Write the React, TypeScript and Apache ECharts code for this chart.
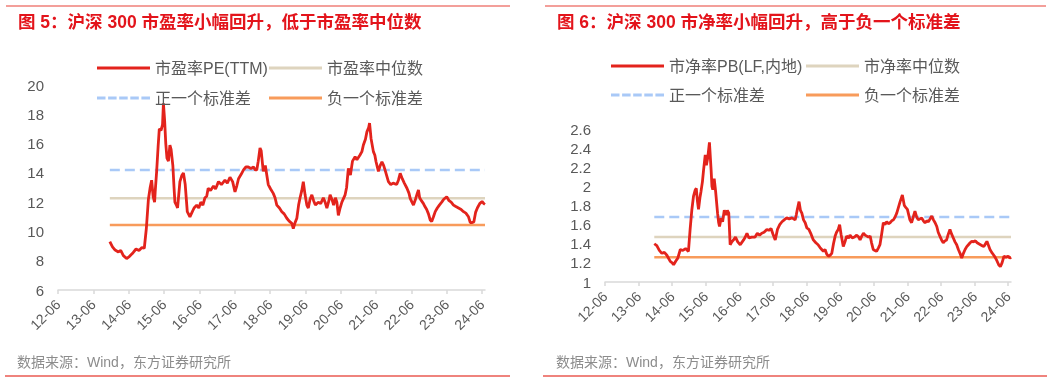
import React, { useEffect, useRef } from "react";
import * as echarts from "echarts";

// months since 2012-06 (x position of each reading) and values
const peMonth = [17.6,18.5,19.4,20.5,21.3,22.2,23.3,24.3,25.5,26.5,27.5,28.5,29.3,30.0,30.7,31.3,31.8,32.3,32.8,33.0,33.5,34.0,34.4,35.0,35.5,35.8,36.2,36.6,37.0,37.5,38.0,38.4,39.0,39.4,39.7,40.2,40.6,41.0,41.4,42.0,42.6,43.2,43.9,44.8,45.5,46.2,47.1,47.8,48.5,49.2,49.9,50.5,51.0,51.8,52.8,53.5,54.5,55.5,56.7,57.5,58.4,59.3,60.1,60.7,61.3,62.2,63.0,63.8,64.6,65.5,66.4,67.0,67.5,68.0,68.6,69.0,69.7,70.4,71.4,72.2,73.1,73.7,74.3,75.2,76.0,76.8,77.7,78.5,79.4,79.9,80.5,81.1,81.7,82.2,82.8,83.3,83.9,84.5,85.0,85.6,86.2,86.8,87.4,88.4,89.2,90.1,90.7,91.3,92.0,92.4,93.0,93.6,94.2,94.7,95.2,95.8,96.4,97.5,98.0,98.6,99.3,100.0,100.9,101.5,102.5,103.2,103.7,104.4,104.9,105.5,105.8,106.3,107.1,107.6,108.0,108.8,109.4,110.0,110.6,111.2,112.2,113.0,113.8,115.0,115.6,116.2,116.9,117.6,118.5,119.2,119.6,120.2,120.7,121.4,122.0,122.4,122.8,123.4,124.1,124.6,125.2,125.8,126.4,126.9,127.5,128.1,128.8,129.5,130.3,131.0,132.0,132.8,133.5,134.3,135.1,136.0,136.9,137.7,138.5,139.4,140.0,140.5,141.2,141.8,142.4,143.2,144.0,144.6,145.0];
const peValue = [9.30,8.95,8.73,8.60,8.70,8.35,8.15,8.30,8.55,8.80,8.70,8.90,8.85,10.2,12.2,13.0,13.5,12.4,12.0,12.7,14.1,15.8,17.0,16.9,17.3,18.75,17.6,16.0,15.0,14.8,15.9,15.6,14.5,13.0,12.0,11.8,11.6,12.5,13.4,13.8,14.0,13.2,11.35,11.0,11.3,11.6,11.8,11.6,12.0,11.8,12.3,12.4,12.95,12.8,13.1,12.9,13.4,13.2,13.5,13.3,13.7,13.4,12.7,13.1,13.6,13.9,14.2,14.4,14.4,14.3,14.4,14.2,14.2,14.8,15.7,15.5,14.1,14.5,13.2,12.9,12.6,12.3,11.8,11.6,11.35,11.2,10.9,10.7,10.55,10.2,10.6,10.9,11.8,12.3,12.8,13.4,12.5,11.8,11.6,12.2,12.5,12.1,11.8,12.0,11.9,12.3,12.0,11.6,12.1,12.5,12.2,11.8,12.3,12.0,11.1,11.6,12.0,12.5,13.0,14.3,13.85,14.8,15.1,14.9,15.2,15.45,15.9,16.3,16.8,17.1,17.4,16.35,15.45,15.2,14.76,14.1,14.5,14.76,14.5,14.1,13.4,13.2,13.3,13.2,13.5,13.97,13.6,13.3,12.95,12.6,12.26,12.0,11.8,12.2,12.6,12.83,12.3,12.1,11.9,11.7,11.5,11.2,10.78,10.67,11.0,11.35,11.6,11.8,12.0,12.2,12.37,12.1,12.0,11.8,11.7,11.6,11.5,11.35,11.25,11.0,10.6,10.6,10.65,11.3,11.6,11.9,12.05,11.9,11.85];

const pbMonth = [17.6,18.5,19.4,20.3,21.2,22.1,23.3,24.0,24.5,25.3,26.0,26.9,27.8,28.8,29.8,30.4,31.0,31.6,32.2,32.6,33.0,33.4,33.9,34.3,34.8,35.2,35.8,36.2,36.7,37.3,37.9,38.2,38.5,39.0,39.5,40.2,40.6,40.9,41.5,42.0,42.6,43.2,43.7,44.2,44.7,45.3,45.9,46.6,47.4,48.3,49.0,49.5,50.1,50.7,51.4,52.4,53.6,54.4,55.2,56.0,56.8,57.8,58.5,59.3,60.0,60.8,61.6,62.4,63.2,64.0,64.9,65.8,66.8,67.9,68.3,68.7,69.3,69.8,70.3,70.9,71.5,72.1,72.8,73.6,74.4,75.3,76.1,76.8,77.4,78.0,78.6,79.2,79.8,80.4,81.0,81.6,82.2,82.7,83.3,83.8,84.3,85.1,85.7,86.3,87.0,87.5,88.3,89.1,89.9,90.6,91.1,91.7,92.3,92.9,93.5,94.1,94.7,95.2,95.8,96.4,97.0,97.7,98.2,98.8,99.4,100.0,100.6,101.2,101.8,102.4,103.0,103.6,104.2,104.8,105.4,106.2,106.9,107.4,108.0,108.9,109.5,110.1,110.7,111.3,111.9,112.5,113.1,113.7,114.3,114.9,115.5,116.1,116.7,117.3,117.9,118.5,119.0,119.6,120.2,120.8,121.4,122.0,122.6,123.2,123.8,124.4,125.0,125.6,126.2,126.8,127.4,128.0,128.6,129.2,129.8,130.4,131.0,131.6,132.3,132.9,133.5,134.1,134.7,135.3,135.9,136.4,137.0,137.5,138.1,138.6,139.3,140.0,140.6,141.2,141.8,142.5,143.2,144.0,144.6,145.0];
const pbValue = [1.40,1.38,1.33,1.30,1.31,1.28,1.215,1.20,1.18,1.22,1.25,1.34,1.33,1.35,1.32,1.55,1.75,1.895,1.96,1.98,1.85,1.76,1.88,1.95,2.05,2.17,2.33,2.22,2.30,2.46,2.17,2.00,1.965,2.08,1.95,1.72,1.62,1.58,1.67,1.63,1.75,1.70,1.75,1.72,1.39,1.42,1.44,1.47,1.42,1.39,1.42,1.44,1.47,1.51,1.46,1.47,1.47,1.51,1.49,1.51,1.52,1.55,1.54,1.56,1.50,1.44,1.55,1.60,1.63,1.65,1.67,1.66,1.67,1.65,1.70,1.76,1.84,1.75,1.72,1.65,1.62,1.565,1.55,1.50,1.44,1.41,1.39,1.36,1.34,1.32,1.34,1.29,1.27,1.28,1.30,1.40,1.48,1.52,1.55,1.60,1.50,1.37,1.42,1.48,1.46,1.49,1.46,1.47,1.49,1.47,1.44,1.48,1.51,1.49,1.48,1.47,1.48,1.41,1.34,1.33,1.32,1.36,1.39,1.50,1.62,1.60,1.63,1.61,1.62,1.64,1.65,1.68,1.72,1.78,1.84,1.91,1.80,1.78,1.76,1.65,1.62,1.68,1.74,1.68,1.65,1.66,1.67,1.64,1.62,1.64,1.63,1.66,1.69,1.65,1.62,1.58,1.52,1.48,1.44,1.41,1.43,1.44,1.50,1.55,1.50,1.46,1.42,1.39,1.34,1.30,1.25,1.30,1.34,1.37,1.39,1.41,1.425,1.42,1.43,1.41,1.40,1.39,1.38,1.37,1.40,1.425,1.38,1.34,1.31,1.29,1.26,1.22,1.18,1.16,1.20,1.27,1.26,1.27,1.25,1.26,1.28];

const peBands = { median: 12.26, upper: 14.2, lower: 10.44 };
const pbBands = { median: 1.47, upper: 1.68, lower: 1.26 };
const bandStart = 17.6;
const bandEnd = 145;

const xTickMonths = [0, 12, 24, 36, 48, 60, 72, 84, 96, 108, 120, 132, 144];
const peYTicks = { min: 6, max: 20, step: 2 };
const pbYTicks = { min: 1, max: 2.6, step: 0.2 };

const titles = ["图 5：沪深 300 市盈率小幅回升，低于市盈率中位数", "图 6：沪深 300 市净率小幅回升，高于负一个标准差"];
const source = "数据来源：Wind，东方证券研究所";
const peName = "市盈率PE(TTM)";
const peMedName = "市盈率中位数";
const pbName = "市净率PB(LF,内地)";
const pbMedName = "市净率中位数";
const upName = "正一个标准差";
const lowName = "负一个标准差";

const FONT = "'Liberation Sans', Arial, 'Noto Sans CJK SC', sans-serif";
const RED = "#E3231C";
const MED = "#DED4BE";
const UP = "#A9C9F7";
const LOW = "#F89B5B";
const GRAY = "#595959";

const SOLID_ICON = "path://M0,0H53V3H0Z";
const DASH_ICON = "path://M0,0h8.5v3h-8.5z M11.1,0h8.5v3h-8.5z M22.2,0h8.5v3h-8.5z M33.3,0h8.5v3h-8.5z M44.4,0h8.6v3h-8.6z";

function pairs(xs: number[], ys: number[]) {
  return xs.map((x, i) => [x, ys[i]]);
}
function band(v: number) {
  return [[bandStart, v], [bandEnd, v]];
}

export default function App() {
  const ref = useRef<HTMLDivElement>(null);
  useEffect(() => {
    if (!ref.current) return;
    const chart = echarts.init(ref.current, undefined, { renderer: "svg" });
    const xAxisBase = (gridIndex: number) => ({
      type: "value",
      gridIndex,
      min: 0,
      max: 145,
      interval: 12,
      axisLine: { show: true, lineStyle: { color: "#D9D9D9", width: 1.5 } },
      axisTick: { show: true, length: 4, lineStyle: { color: "#D9D9D9", width: 1.5 }, customValues: xTickMonths },
      splitLine: { show: false },
      axisLabel: {
        customValues: xTickMonths,
        rotate: 45,
        margin: 12,
        color: GRAY,
        fontSize: 14,
        fontFamily: FONT,
        formatter: (v: number) => `${12 + Math.round(v / 12)}-06`,
      },
    });
    const yAxisBase = (gridIndex: number, t: { min: number; max: number; step: number }) => ({
      type: "value",
      gridIndex,
      min: t.min,
      max: t.max,
      interval: t.step,
      axisLine: { show: false },
      axisTick: { show: false },
      splitLine: { show: false },
      axisLabel: { color: GRAY, fontSize: 15, fontFamily: FONT, margin: 14, formatter: (v: number) => String(Math.round(v * 10) / 10) },
    });
    const line = (name: string, data: number[][], idx: number, color: string, type: string = "solid", z = 2, width = 2.5) => ({
      type: "line",
      name,
      data,
      xAxisIndex: idx,
      yAxisIndex: idx,
      showSymbol: false,
      symbol: "none",
      z,
      lineStyle: { color, width, type },
      itemStyle: { color },
    });
    const legend = (name: string, left: number, top: number, dashed = false) => ({
      data: [{ name, icon: dashed ? DASH_ICON : SOLID_ICON }],
      left,
      top,
      padding: 0,
      itemWidth: 53,
      itemHeight: 3,
      itemGap: 0,
      selectedMode: false,
      textStyle: { color: GRAY, fontSize: 16, fontFamily: FONT, lineHeight: 16 },
    });
    const text = (t: string, x: number, y: number, size: number, fill: string, weight = "normal") => ({
      type: "text",
      x,
      y,
      style: { text: t, fill, fontSize: size, fontWeight: weight, fontFamily: FONT, textVerticalAlign: "middle" },
    });
    const hline = (x1: number, x2: number, y: number, color: string) => ({
      type: "line",
      shape: { x1, y1: y, x2, y2: y },
      style: { stroke: color, lineWidth: 1.5 },
    });
    chart.setOption({
      animation: false,
      grid: [
        { left: 58, top: 85, width: 427, height: 205 },
        { left: 605, top: 129, width: 406, height: 153 },
      ],
      xAxis: [xAxisBase(0), xAxisBase(1)],
      yAxis: [yAxisBase(0, peYTicks), yAxisBase(1, pbYTicks)],
      legend: [
        legend(peName, 97, 60),
        legend(peMedName, 269, 60),
        legend(upName, 97, 90, true),
        legend(lowName, 269, 90),
        legend(pbName, 611, 58),
        legend(pbMedName, 806, 58),
        legend(upName, 611, 87, true),
        legend(lowName, 806, 87),
      ],
      series: [
        line(upName, band(peBands.upper), 0, UP, "dashed", 1),
        line(peMedName, band(peBands.median), 0, MED, "solid", 1),
        line(lowName, band(peBands.lower), 0, LOW, "solid", 1),
        line(peName, pairs(peMonth, peValue), 0, RED, "solid", 3, 2.8),
        line(upName, band(pbBands.upper), 1, UP, "dashed", 1),
        line(pbMedName, band(pbBands.median), 1, MED, "solid", 1),
        line(lowName, band(pbBands.lower), 1, LOW, "solid", 1),
        line(pbName, pairs(pbMonth, pbValue), 1, RED, "solid", 3, 2.8),
      ],
      graphic: [
        hline(6, 510, 6, "#EF7F78"),
        hline(545, 1046, 6, "#EF7F78"),
        text(titles[0], 18, 22, 17.5, "#E3141B", "bold"),
        text(titles[1], 557, 22, 17.5, "#E3141B", "bold"),
        text(source, 17, 362, 14, "#8C8C8C"),
        text(source, 556, 362, 14, "#8C8C8C"),
        hline(5, 510, 376, "#EA5A52"),
        hline(543, 1047, 376, "#EA5A52"),
      ],
    });
    return () => chart.dispose();
  }, []);
  return <div ref={ref} style={{ position: "fixed", left: 0, top: 0, width: 1061, height: 382 }} />;
}
